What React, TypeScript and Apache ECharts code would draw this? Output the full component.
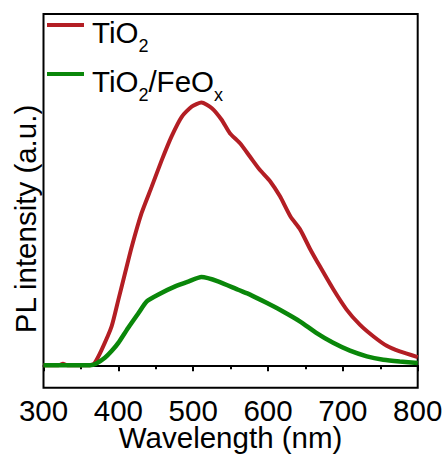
import React, { useEffect, useRef } from "react";
import * as echarts from "echarts";

const seriesNames = ["TiO2", "TiO2/FeOx"];

const waveTiO2 = [300, 320, 326, 332, 362, 368, 377.8, 391, 400, 409, 418, 431, 444.6, 458, 471, 484.7, 498, 511, 525, 538, 549, 562.6, 576, 589, 603, 616, 630, 643, 656, 669.5, 687, 705, 723, 741, 758.6, 776, 800];
const valTiO2 = [0, 0, 0.4, 0, 0, 0.5, 4.2, 10.4, 17.5, 24.7, 31.8, 40.7, 47.8, 54.9, 61.2, 66.5, 69.2, 70.3, 68.8, 65.7, 62.1, 59.4, 55.8, 52.3, 49.2, 45.2, 39.8, 36.3, 31.2, 26.4, 20.4, 14.9, 10.8, 7.7, 5.2, 3.7, 2.2];

const waveFeOx = [300, 362, 370, 382, 391, 400, 413, 427, 438, 453, 476, 493.5, 511, 534, 560, 576, 598, 620, 643, 665, 687, 709.5, 732, 754, 776, 800];
const valFeOx = [0, 0, 0.4, 2.0, 3.8, 6.0, 10.0, 14.0, 17.1, 18.9, 21.1, 22.4, 23.6, 22.4, 20.2, 18.9, 16.7, 14.4, 11.7, 8.6, 6.0, 3.9, 2.4, 1.5, 1.0, 0.6];

const xTicks = { min: 300, max: 800, interval: 100 };

const FONT = "'Liberation Sans', Arial, sans-serif";

export default function App() {
  const ref = useRef<HTMLDivElement>(null);
  useEffect(() => {
    if (!ref.current) return;
    const chart = echarts.init(ref.current, undefined, { renderer: "svg" });
    const pairs = (xs: number[], ys: number[]) => xs.map((x, i) => [x, ys[i]]);
    chart.setOption({
      animation: false,
      backgroundColor: "#fff",
      grid: {
        left: 43.5,
        right: 27.3,
        top: 14,
        bottom: 67.3,
        show: true,
        borderColor: "#000",
        borderWidth: 2,
        backgroundColor: "transparent",
        outerBoundsMode: "none",
        containLabel: false,
      },
      legend: {
        orient: "vertical",
        left: 47,
        top: 10,
        padding: 0,
        itemGap: 4,
        itemWidth: 37,
        itemHeight: 4,
        icon: "rect",
        data: seriesNames,
        formatter: (name: string) =>
          name === "TiO2" ? "{f|TiO}{s|2}" : "{f|TiO}{s|2}{m|/FeO}{s|x}",
        textStyle: {
          fontFamily: FONT,
          color: "#000",
          rich: {
            f: { fontSize: 29.5, fontFamily: FONT, color: "#000", lineHeight: 30, verticalAlign: "top", padding: [7, 0, 0, 3] },
            m: { fontSize: 29.5, fontFamily: FONT, color: "#000", lineHeight: 30, verticalAlign: "top", padding: [7, 0, 0, 0] },
            s: { fontSize: 18, fontFamily: FONT, color: "#000", lineHeight: 18, verticalAlign: "top", padding: [27, 0, 0, 0] },
          },
        },
      },
      xAxis: {
        type: "value",
        min: xTicks.min,
        max: xTicks.max,
        interval: xTicks.interval,
        name: "Wavelength (nm)",
        nameLocation: "middle",
        nameGap: 37.5,
        nameMoveOverlap: false,
        nameTextStyle: { fontSize: 29.5, lineHeight: 24, fontFamily: FONT, color: "#000" },
        axisLine: { show: true, lineStyle: { color: "#000", width: 2 } },
        axisTick: { show: true, length: 6, lineStyle: { color: "#000", width: 2 } },
        minorTick: { show: true, splitNumber: 2, length: 4, lineStyle: { color: "#000", width: 2 } },
        axisLabel: { fontSize: 29.5, lineHeight: 24, fontFamily: FONT, color: "#000", margin: 10.5 },
        splitLine: { show: false },
        minorSplitLine: { show: false },
      },
      yAxis: {
        type: "value",
        min: -6,
        max: 94,
        axisLine: { show: false },
        axisTick: { show: false },
        axisLabel: { show: false },
        splitLine: { show: false },
      },
      graphic: [
        {
          type: "text",
          x: 25,
          y: 219,
          rotation: Math.PI / 2,
          style: {
            text: "PL intensity (a.u.)",
            fontSize: 29.5,
            fontFamily: FONT,
            fill: "#000",
            align: "center",
            verticalAlign: "middle",
          },
        },
      ],
      series: [
        {
          name: seriesNames[0],
          type: "line",
          data: pairs(waveTiO2, valTiO2),
          showSymbol: false,
          smooth: 0.2,
          color: "#B31E24",
          lineStyle: { width: 4, color: "#B31E24" },
          z: 2,
        },
        {
          name: seriesNames[1],
          type: "line",
          data: pairs(waveFeOx, valFeOx),
          showSymbol: false,
          smooth: 0.2,
          color: "#0A870A",
          lineStyle: { width: 4.5, color: "#0A870A" },
          z: 3,
        },
      ],
    });
    return () => chart.dispose();
  }, []);
  return <div ref={ref} style={{ width: 445, height: 455, position: "absolute", left: 0, top: 0 }} />;
}
